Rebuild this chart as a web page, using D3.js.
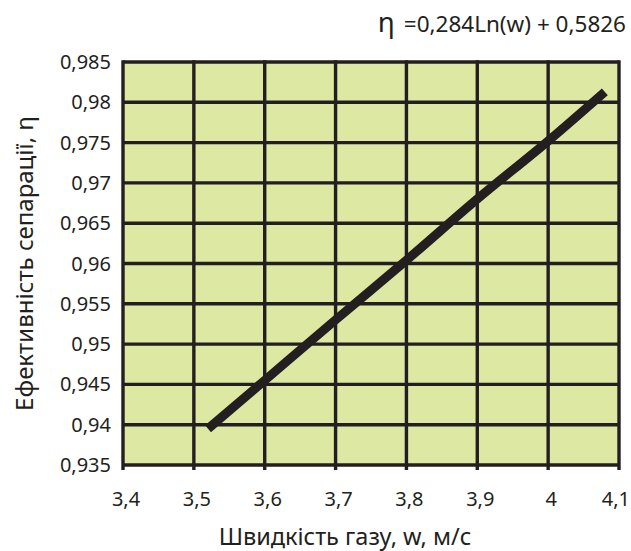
<!DOCTYPE html>
<html>
<head>
<meta charset="utf-8">
<script src="https://cdn.jsdelivr.net/npm/d3@7"></script>
<style>
  body { margin: 0; background: #fff; }
  svg { display: block; font-family: "Noto Sans", sans-serif; }
</style>
</head>
<body>
<svg id="chart" width="631" height="551"></svg>
<script>
// швидкість газу, м/с
const speed = [3.52, 3.6, 3.7, 3.8, 3.9, 4.0, 4.08]
// ефективність сепарації
const efficiency = [0.9395, 0.9455, 0.953, 0.9604, 0.968, 0.9752, 0.9813]

const xTicks = [3.4, 3.5, 3.6, 3.7, 3.8, 3.9, 4.0, 4.1]
const yTicks = [0.935, 0.94, 0.945, 0.95, 0.955, 0.96, 0.965, 0.97, 0.975, 0.98, 0.985]

const width = 631
const height = 551
const margin = { top: 62, right: 12, bottom: 86, left: 123 }
const ink = '#231f20'

const svg = d3.select('#chart')

const x = d3.scaleLinear()
  .domain([3.4, 4.1])
  .range([margin.left, width - margin.right])

const y = d3.scaleLinear()
  .domain([0.935, 0.985])
  .range([height - margin.bottom, margin.top])

const comma = (d) => String(d).replace('.', ',')

// plot area
svg.append('rect')
  .attr('x', x(3.4))
  .attr('y', y(0.985))
  .attr('width', x(4.1) - x(3.4))
  .attr('height', y(0.935) - y(0.985))
  .attr('fill', '#dde8a3')

// grid
svg.append('g')
  .selectAll('line')
  .data(yTicks)
  .join('line')
  .attr('x1', x(3.4))
  .attr('x2', x(4.1))
  .attr('y1', (d) => y(d))
  .attr('y2', (d) => y(d))
  .attr('stroke', ink)
  .attr('stroke-width', 3.4)

svg.append('g')
  .selectAll('line')
  .data(xTicks)
  .join('line')
  .attr('x1', (d) => x(d))
  .attr('x2', (d) => x(d))
  .attr('y1', y(0.985) - 1.7)
  .attr('y2', y(0.935) + 5)
  .attr('stroke', ink)
  .attr('stroke-width', 3.4)

// y tick labels
svg.append('g')
  .selectAll('text')
  .data(yTicks)
  .join('text')
  .attr('x', margin.left - 12)
  .attr('y', (d) => y(d))
  .attr('dy', '0.35em')
  .attr('text-anchor', 'end')
  .attr('font-size', 20)
  .attr('fill', ink)
  .text((d) => comma(d))

// x tick labels (last one kept inside the page)
svg.append('g')
  .selectAll('text')
  .data(xTicks)
  .join('text')
  .attr('x', (d, i) => (i === xTicks.length - 1 ? width - 1 : x(d) + 3))
  .attr('y', y(0.935) + 41)
  .attr('text-anchor', (d, i) => (i === xTicks.length - 1 ? 'end' : 'middle'))
  .attr('font-size', 20)
  .attr('fill', ink)
  .text((d) => comma(d))

// trend line
const line = d3.line()
  .x((d) => x(d[0]))
  .y((d) => y(d[1]))
  .curve(d3.curveMonotoneX)

svg.append('path')
  .datum(d3.zip(speed, efficiency))
  .attr('d', line)
  .attr('fill', 'none')
  .attr('stroke', ink)
  .attr('stroke-width', 9)

// equation
const eq = svg.append('text')
  .attr('x', width - 5)
  .attr('y', 32)
  .attr('text-anchor', 'end')
  .attr('font-size', 22.5)
  .attr('fill', ink)
eq.append('tspan').attr('font-size', 28).text('η')
eq.append('tspan').attr('dx', 9).text('=0,284Ln(w) + 0,5826')

// axis titles
svg.append('text')
  .attr('x', 345)
  .attr('y', 545)
  .attr('text-anchor', 'middle')
  .attr('font-size', 23.5)
  .attr('fill', ink)
  .text('Швидкість газу, w, м/с')

svg.append('text')
  .attr('transform', `translate(33, ${(y(0.935) + y(0.985)) / 2}) rotate(-90)`)
  .attr('text-anchor', 'middle')
  .attr('font-size', 24)
  .attr('fill', ink)
  .text('Ефективність сепарації, η')
</script>
</body>
</html>
